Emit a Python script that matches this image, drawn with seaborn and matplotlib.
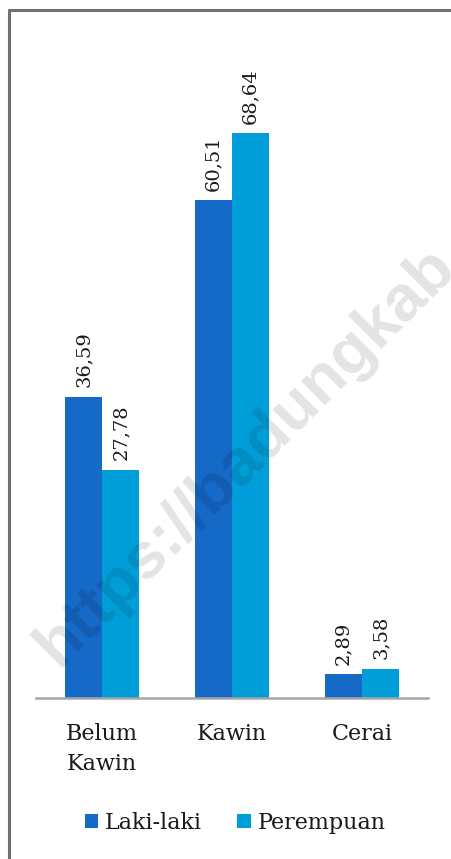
import matplotlib
matplotlib.use("Agg")
import matplotlib.pyplot as plt
import seaborn as sns
import pandas as pd

categories = ["Belum\nKawin", "Kawin", "Cerai"]
laki = [36.59, 60.51, 2.89]
perempuan = [27.78, 68.64, 3.58]
series = ["Laki-laki", "Perempuan"]
colors = ["#1569C7", "#009ED9"]

df = pd.DataFrame({
    "kategori": categories * 2,
    "nilai": laki + perempuan,
    "jenis": [series[0]] * 3 + [series[1]] * 3,
})

sns.set_style("white")
plt.rcParams["font.family"] = ["DejaVu Serif"]

W, H = 452, 859
fig = plt.figure(figsize=(W / 100, H / 100), dpi=100)
ax = fig.add_axes([36 / W, (H - 698) / H, 392 / W, 658 / H])

sns.barplot(data=df, x="kategori", y="nilai", hue="jenis", palette=colors,
            width=0.57, ax=ax, saturation=1, legend=True, linewidth=0)

ax.set_ylim(0, 80)
ax.set_xlim(-0.508, 2.508)
ax.set_xlabel("")
ax.set_ylabel("")
ax.set_yticks([])
for s in ["top", "right", "left"]:
    ax.spines[s].set_visible(False)
ax.spines["bottom"].set_color("#a6a6a6")
ax.spines["bottom"].set_linewidth(1.8)
ax.tick_params(axis="x", length=0, pad=18, labelsize=16, labelcolor="#1a1a1a")
for t in ax.get_xticklabels():
    t.set_linespacing(1.45)
    t.set_va("top")

for cont in ax.containers:
    labels = [f"{v:.2f}".replace(".", ",") for v in cont.datavalues]
    ax.bar_label(cont, labels=labels, rotation=90, padding=7, fontsize=14,
                 color="#1a1a1a")

leg = ax.legend(loc="center", bbox_to_anchor=(235 / W, 1 - 823 / H),
                bbox_transform=fig.transFigure, ncol=2, frameon=False,
                fontsize=16, handlelength=0.6, handleheight=0.6,
                handletextpad=0.3, columnspacing=1.6)
for t in leg.get_texts():
    t.set_color("#1a1a1a")

# watermark
fig.text(58 / W, 1 - 668 / H, "https://badungkab.go.id", rotation=45,
         rotation_mode="anchor", ha="left", va="baseline",
         fontsize=47, fontweight="bold", family="Liberation Sans",
         color="black", alpha=0.11, zorder=10)

# frame border (left and top)
fig.add_artist(plt.Line2D([9 / W, 9 / W], [0, 1 - 10 / H], transform=fig.transFigure,
                          color="#707070", linewidth=2.2))
fig.add_artist(plt.Line2D([9 / W, 1], [1 - 10 / H, 1 - 10 / H], transform=fig.transFigure,
                          color="#707070", linewidth=2.2))

fig.savefig("out.png", dpi=100)
